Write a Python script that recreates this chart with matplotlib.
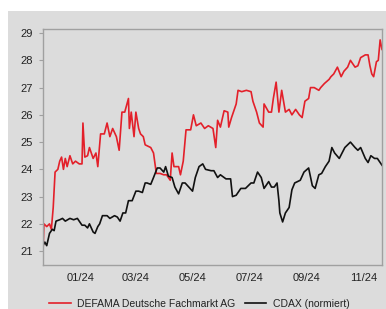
# Kursverlauf DEFAMA vs. CDAX (normiert), Nov 2023 - Nov 2024

import matplotlib
matplotlib.use("Agg")
import matplotlib.pyplot as plt
import matplotlib.dates as mdates
from matplotlib.patches import Rectangle
import pandas as pd

defama_dates = [
    "2023-11-22", "2023-11-23", "2023-11-26", "2023-11-29", "2023-12-01", "2023-12-03",
    "2023-12-05", "2023-12-08", "2023-12-10", "2023-12-12", "2023-12-14", "2023-12-16",
    "2023-12-18", "2023-12-21", "2023-12-24", "2023-12-27", "2023-12-31", "2024-01-03",
    "2024-01-04", "2024-01-06", "2024-01-09", "2024-01-11", "2024-01-15", "2024-01-18",
    "2024-01-20", "2024-01-23", "2024-01-27", "2024-01-30", "2024-02-02", "2024-02-05",
    "2024-02-09", "2024-02-12", "2024-02-15", "2024-02-18", "2024-02-22", "2024-02-23",
    "2024-02-25", "2024-02-28", "2024-03-01", "2024-03-04", "2024-03-06", "2024-03-09",
    "2024-03-11", "2024-03-17", "2024-03-20", "2024-03-23", "2024-03-27", "2024-03-31",
    "2024-04-03", "2024-04-07", "2024-04-09", "2024-04-11", "2024-04-16", "2024-04-18",
    "2024-04-21", "2024-04-24", "2024-04-29", "2024-05-02", "2024-05-05", "2024-05-10",
    "2024-05-14", "2024-05-18", "2024-05-23", "2024-05-26", "2024-05-28", "2024-05-31",
    "2024-06-04", "2024-06-08", "2024-06-09", "2024-06-12", "2024-06-17", "2024-06-19",
    "2024-06-23", "2024-06-28", "2024-07-03", "2024-07-05", "2024-07-09", "2024-07-12",
    "2024-07-16", "2024-07-17", "2024-07-22", "2024-07-25", "2024-07-27", "2024-07-30",
    "2024-08-02", "2024-08-05", "2024-08-09", "2024-08-13", "2024-08-16", "2024-08-20",
    "2024-08-24", "2024-08-27", "2024-08-30", "2024-09-03", "2024-09-05", "2024-09-09",
    "2024-09-14", "2024-09-16", "2024-09-20", "2024-09-25", "2024-09-27", "2024-09-30",
    "2024-10-04", "2024-10-08", "2024-10-11", "2024-10-15", "2024-10-18", "2024-10-23",
    "2024-10-26", "2024-10-29", "2024-11-03", "2024-11-06", "2024-11-08", "2024-11-10",
    "2024-11-12", "2024-11-15", "2024-11-17", "2024-11-19", "2024-11-21",
]
defama_values = [
    20.93, 22.0, 21.9, 22.0, 21.8, 22.6,
    23.9, 24.0, 24.3, 24.45, 24.0, 24.4,
    24.1, 24.5, 24.2, 24.3, 24.2, 24.2,
    25.7, 24.45, 24.5, 24.8, 24.4, 24.6,
    24.1, 25.3, 25.3, 25.7, 25.2, 25.5,
    25.2, 24.7, 26.1, 26.1, 26.6, 25.5,
    26.1, 25.2, 26.1, 25.5, 25.3, 25.2,
    24.9, 24.8, 24.6, 23.85, 23.85, 23.8,
    23.8, 23.6, 24.6, 24.1, 24.1, 23.8,
    24.3, 25.45, 25.45, 26.0, 25.6, 25.7,
    25.5, 25.6, 25.5, 24.8, 25.8, 25.55,
    26.15, 26.1, 25.55, 25.9, 26.4, 26.9,
    26.85, 26.9, 26.85, 26.5, 26.1, 25.7,
    25.55, 26.4, 26.1, 26.1, 26.6, 27.2,
    26.1, 26.9, 26.1, 26.2, 26.0, 26.2,
    26.0, 25.9, 26.5, 26.6, 27.0, 27.0,
    26.9, 27.0, 27.15, 27.3, 27.4, 27.5,
    27.75, 27.4, 27.6, 27.75, 28.0, 27.75,
    27.8, 28.1, 28.2, 28.2, 27.8, 27.5,
    27.4, 27.95, 28.0, 28.75, 28.4,
]

cdax_dates = [
    "2023-11-22", "2023-11-24", "2023-11-26", "2023-11-29", "2023-12-02", "2023-12-04",
    "2023-12-06", "2023-12-10", "2023-12-13", "2023-12-16", "2023-12-21", "2023-12-25",
    "2023-12-29", "2024-01-03", "2024-01-06", "2024-01-09", "2024-01-11", "2024-01-15",
    "2024-01-17", "2024-01-20", "2024-01-22", "2024-01-25", "2024-01-30", "2024-02-02",
    "2024-02-07", "2024-02-10", "2024-02-13", "2024-02-16", "2024-02-19", "2024-02-22",
    "2024-02-26", "2024-03-01", "2024-03-04", "2024-03-08", "2024-03-11", "2024-03-13",
    "2024-03-17", "2024-03-20", "2024-03-24", "2024-03-27", "2024-03-31", "2024-04-02",
    "2024-04-05", "2024-04-09", "2024-04-12", "2024-04-16", "2024-04-20", "2024-04-23",
    "2024-04-27", "2024-05-01", "2024-05-04", "2024-05-08", "2024-05-12", "2024-05-15",
    "2024-05-21", "2024-05-24", "2024-05-28", "2024-05-31", "2024-06-06", "2024-06-11",
    "2024-06-13", "2024-06-17", "2024-06-22", "2024-06-27", "2024-07-03", "2024-07-06",
    "2024-07-10", "2024-07-14", "2024-07-17", "2024-07-22", "2024-07-25", "2024-07-28",
    "2024-07-31", "2024-08-02", "2024-08-03", "2024-08-06", "2024-08-09", "2024-08-13",
    "2024-08-16", "2024-08-19", "2024-08-25", "2024-08-29", "2024-09-03", "2024-09-07",
    "2024-09-10", "2024-09-14", "2024-09-17", "2024-09-21", "2024-09-25", "2024-09-28",
    "2024-10-01", "2024-10-06", "2024-10-09", "2024-10-12", "2024-10-18", "2024-10-23",
    "2024-10-26", "2024-10-29", "2024-11-03", "2024-11-06", "2024-11-09", "2024-11-13",
    "2024-11-16", "2024-11-21",
]
cdax_values = [
    21.2, 21.33, 21.2, 21.65, 21.8, 21.75,
    22.1, 22.15, 22.2, 22.1, 22.2, 22.15,
    22.2, 21.95, 21.95, 21.85, 22.0, 21.7,
    21.65, 21.9, 22.0, 22.3, 22.3, 22.2,
    22.3, 22.25, 22.1, 22.4, 22.4, 22.85,
    22.85, 23.2, 23.2, 23.15, 23.5, 23.5,
    23.45, 23.7, 24.05, 24.05, 23.9, 24.1,
    23.75, 23.7, 23.35, 23.1, 23.5, 23.5,
    23.35, 23.2, 23.7, 24.1, 24.2, 24.0,
    23.95, 23.95, 23.7, 23.8, 23.65, 23.65,
    23.0, 23.05, 23.3, 23.3, 23.5, 23.5,
    23.9, 23.7, 23.3, 23.55, 23.35, 23.35,
    23.5, 22.85, 22.4, 22.07, 22.4, 22.6,
    23.25, 23.5, 23.6, 23.9, 24.05, 23.4,
    23.3, 23.8, 23.85, 24.1, 24.3, 24.8,
    24.6, 24.4, 24.6, 24.8, 25.0, 24.8,
    24.7, 24.8, 24.4, 24.25, 24.5, 24.4,
    24.4, 24.15,
]

y_ticks = [21, 22, 23, 24, 25, 26, 27, 28, 29]

plt.rcParams['font.family'] = ['Liberation Sans', 'DejaVu Sans']
bg = "#dcdcdc"
frame = "#a0a0a0"
text_col = "#222222"

fig = plt.figure(figsize=(3.86, 3.09), dpi=100, facecolor="white")
fig.patches.append(Rectangle((8 / 386, 0), 1, 1 - 11 / 309, transform=fig.transFigure,
                             facecolor=bg, edgecolor="none", zorder=-1))
ax = fig.add_axes([43 / 386, 1 - 265 / 309, 339 / 386, 236 / 309])
ax.set_facecolor(bg)

d_def = pd.to_datetime(defama_dates)
d_cdx = pd.to_datetime(cdax_dates)
ax.plot(d_def, defama_values, color="#e3202a", lw=1.2, label="DEFAMA Deutsche Fachmarkt AG")
ax.plot(d_cdx, cdax_values, color="#111111", lw=1.2, label="CDAX (normiert)")

ax.set_xlim(d_def[0], d_def[-1])
ax.set_ylim(20.49, 29.15)
ax.set_yticks(y_ticks)
ax.xaxis.set_major_locator(mdates.MonthLocator(bymonth=[1, 3, 5, 7, 9, 11]))
ax.xaxis.set_major_formatter(mdates.DateFormatter("%m/%y"))

for s in ax.spines.values():
    s.set_color(frame)
    s.set_linewidth(1.0)
ax.tick_params(axis="y", length=3, color=frame, pad=4, labelsize=8, labelcolor=text_col)
ax.tick_params(axis="x", length=0, pad=6, labelsize=8, labelcolor=text_col)

fig.legend(loc="center", bbox_to_anchor=(0.516, 0.017), ncol=2, frameon=False,
           fontsize=7.5, handlelength=2.1, columnspacing=0.9, handletextpad=0.6,
           labelcolor=text_col)

fig.savefig("out.png", dpi=100, facecolor="white")
